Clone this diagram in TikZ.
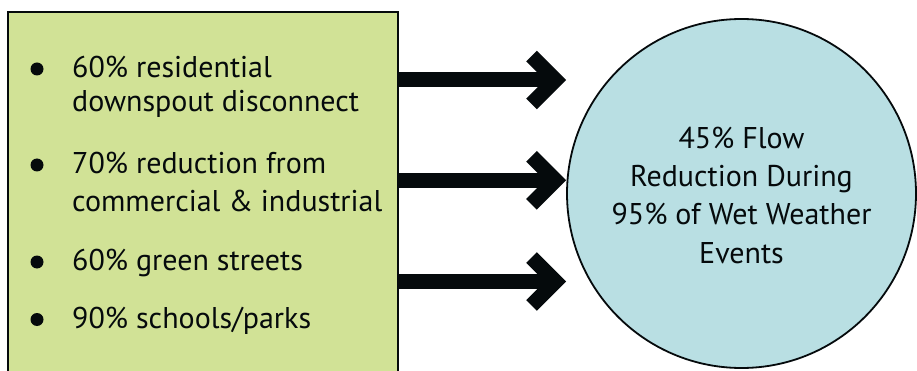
\documentclass[tikz,border=0pt]{standalone}
\usepackage{fontspec}
\setmainfont{PT Sans}
\usetikzlibrary{calc}
\definecolor{boxgreen}{HTML}{D1E296}
\definecolor{circblue}{HTML}{B9DFE3}
\definecolor{inkblack}{HTML}{050A0C}
\tikzset{
  itemtext/.style={anchor=base west, align=left, inner sep=0pt, font=\fontsize{30}{36}\selectfont, text=inkblack},
  bulletdot/.style={circle, fill=inkblack, inner sep=0pt, minimum size=13pt},
  shaft/.style={line width=15pt, draw=inkblack},
  chevron/.style={line width=15pt, draw=inkblack, line join=miter},
}
\begin{document}
\begin{tikzpicture}[x=1pt,y=-1pt]
\useasboundingbox (0,0) rectangle (917,371);
\clip (0,0) rectangle (917,371);
% left box
\node[draw=inkblack, line width=2pt, fill=boxgreen, anchor=north west, minimum width=390pt, minimum height=380pt, inner sep=0pt] (box) at (7,11) {};
% circle
\node[draw=inkblack, line width=1.8pt, fill=circblue, circle, minimum size=349pt, inner sep=0pt] (circ) at (741.5,193.5) {};
\node[align=center, inner sep=0pt, anchor=base, font=\fontsize{30}{38.3}\selectfont, text=inkblack] (ctext) at (741.5,263) {45\% Flow\\Reduction During\\95\% of Wet Weather\\Events};
% items
\node[itemtext, font=\fontsize{30}{34}\selectfont] (i1) at (72,111.7) {60\% residential\\downspout disconnect};
\node[itemtext, font=\fontsize{30}{38.4}\selectfont] (i2) at (72,211.7) {70\% reduction from\\commercial \& industrial};
\node[itemtext] (i3) at (72,270.5) {60\% green streets};
\node[itemtext] (i4) at (72,328) {90\% schools/parks};
\node[bulletdot] (b1) at (37,69) {};
\node[bulletdot] (b2) at (37,165) {};
\node[bulletdot] (b3) at (37,262) {};
\node[bulletdot] (b4) at (37,319.5) {};
% arrows
\foreach \n/\yy in {1/80, 2/180.3, 3/281.5}{
  \coordinate (s\n) at (box.east |- 0,\yy);
  \coordinate (t\n) at (555.5,\yy);
  \draw[shaft] (s\n) -- (t\n);
  \draw[chevron] ($(t\n)+(-24,-24)$) -- (t\n) -- ($(t\n)+(-24,24)$);
}
\end{tikzpicture}
\end{document}
